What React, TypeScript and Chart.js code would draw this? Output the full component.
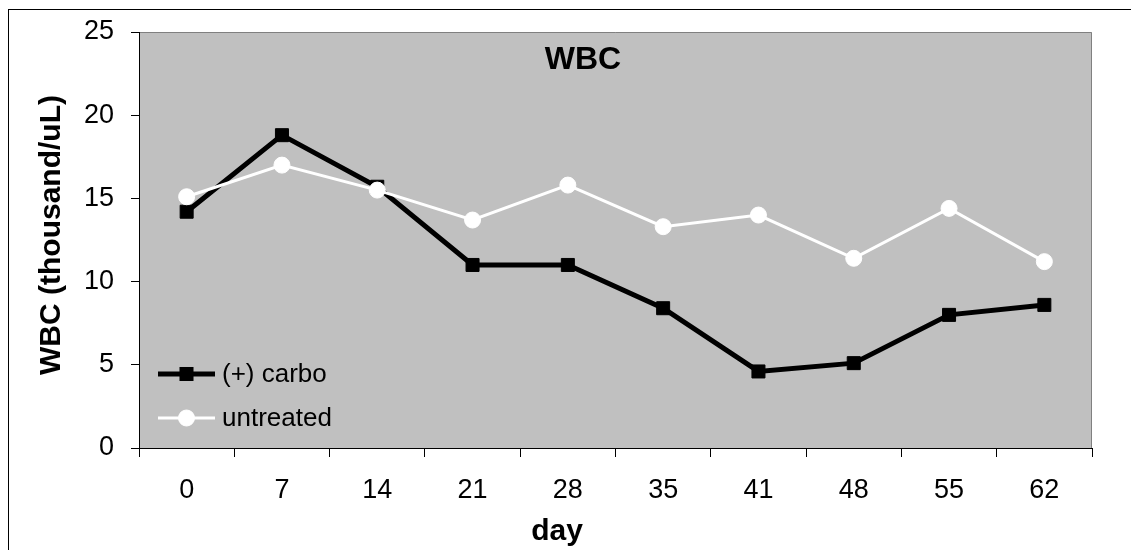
import React, { useEffect, useRef } from "react";
import { Chart, registerables } from "chart.js";

Chart.register(...registerables);

const days: string[] = ["0", "7", "14", "21", "28", "35", "41", "48", "55", "62"];
const carbo: number[] = [14.2, 18.8, 15.7, 11.0, 11.0, 8.4, 4.6, 5.1, 8.0, 8.6];
const untreated: number[] = [15.1, 17.0, 15.5, 13.7, 15.8, 13.3, 14.0, 11.4, 14.4, 11.2];
const seriesNames: string[] = ["(+) carbo", "untreated"];
const chartTitle = "WBC";
const xTitle = "day";
const yTitle = "WBC (thousand/uL)";

const FONT = "'Liberation Sans', Arial, sans-serif";

const decorPlugin = {
  id: "decor",
  beforeDraw(chart: any) {
    const { ctx, chartArea: a } = chart;
    ctx.save();
    ctx.fillStyle = "#c0c0c0";
    ctx.fillRect(a.left, a.top, a.right - a.left, a.bottom - a.top);
    ctx.strokeStyle = "#808080";
    ctx.lineWidth = 1;
    ctx.beginPath();
    ctx.moveTo(a.left, a.top + 0.5);
    ctx.lineTo(a.right - 0.5, a.top + 0.5);
    ctx.lineTo(a.right - 0.5, a.bottom);
    ctx.stroke();
    ctx.restore();
  },
  afterDraw(chart: any) {
    const { ctx, chartArea: a } = chart;
    ctx.save();
    ctx.fillStyle = "#000";
    // main title
    ctx.font = `bold 32px ${FONT}`;
    ctx.textAlign = "center";
    ctx.textBaseline = "alphabetic";
    ctx.fillText(chartTitle, a.left + 444, a.top + 37);
    // x title
    ctx.font = `bold 30px ${FONT}`;
    ctx.fillText(xTitle, a.left + 418, a.bottom + 92);
    // y title
    ctx.save();
    ctx.translate(a.left - 87, (a.top + a.bottom) / 2 - 5);
    ctx.rotate(-Math.PI / 2);
    ctx.textBaseline = "middle";
    ctx.fillText(yTitle, 0, 0);
    ctx.restore();
    // legend
    const rows = [a.bottom - 74, a.bottom - 30];
    [0, 1].forEach((i: number) => {
      const ds = chart.data.datasets[i];
      const y = rows[i];
      const x0 = a.left + 19;
      const x1 = a.left + 76;
      ctx.strokeStyle = ds.borderColor;
      ctx.lineWidth = ds.borderWidth;
      ctx.beginPath();
      ctx.moveTo(x0, y);
      ctx.lineTo(x1, y);
      ctx.stroke();
      ctx.fillStyle = ds.pointBackgroundColor;
      ctx.strokeStyle = ds.pointBorderColor;
      ctx.lineWidth = 1;
      if (ds.pointStyle === "rect") {
        const s = ds.pointRadius * Math.SQRT1_2;
        ctx.fillRect((x0 + x1) / 2 - s, y - s, 2 * s, 2 * s);
        ctx.strokeRect((x0 + x1) / 2 - s, y - s, 2 * s, 2 * s);
      } else {
        ctx.beginPath();
        ctx.arc((x0 + x1) / 2, y, ds.pointRadius, 0, Math.PI * 2);
        ctx.fill();
        ctx.stroke();
      }
      ctx.fillStyle = "#000";
      ctx.font = `26px ${FONT}`;
      ctx.textAlign = "left";
      ctx.textBaseline = "middle";
      ctx.fillText(seriesNames[i], a.left + 83, y + 1);
    });
    ctx.restore();
  },
};

export default function App() {
  const ref = useRef<HTMLCanvasElement>(null);
  useEffect(() => {
    if (!ref.current) return;
    const chart = new Chart(ref.current, {
      type: "line",
      data: {
        labels: days,
        datasets: [
          {
            label: seriesNames[0],
            data: carbo,
            borderColor: "#000",
            backgroundColor: "#000",
            borderWidth: 5,
            pointStyle: "rect",
            pointRadius: 9.2,
            pointBackgroundColor: "#000",
            pointBorderColor: "#000",
            pointBorderWidth: 1,
            tension: 0,
            order: 1,
          },
          {
            label: seriesNames[1],
            data: untreated,
            borderColor: "#fff",
            backgroundColor: "#fff",
            borderWidth: 3,
            pointStyle: "circle",
            pointRadius: 8,
            pointBackgroundColor: "#fff",
            pointBorderColor: "#fff",
            pointBorderWidth: 1,
            tension: 0,
            order: 0,
          },
        ] as any,
      },
      options: {
        animation: false,
        responsive: false,
        maintainAspectRatio: false,
        layout: { padding: { left: 0, top: 22, right: 39, bottom: 0 } },
        plugins: { legend: { display: false }, title: { display: false }, tooltip: { enabled: false } },
        scales: {
          x: {
            type: "category",
            offset: true,
            grid: { offset: true, drawOnChartArea: false, drawTicks: true, tickLength: 9, color: "#000" },
            border: { display: true, color: "#000", width: 1 },
            ticks: { color: "#000", font: { family: FONT, size: 27 }, padding: 17, maxRotation: 0 },
            afterFit: (s: any) => { s.height = 102; s.paddingLeft = 0; s.paddingRight = 0; },
          },
          y: {
            min: 0,
            max: 25,
            ticks: { stepSize: 5, color: "#000", font: { family: FONT, size: 27 }, padding: 17 },
            grid: { drawOnChartArea: false, drawTicks: true, tickLength: 8, color: "#000" },
            border: { display: true, color: "#000", width: 1 },
            afterFit: (s: any) => { s.width = 130; s.paddingTop = 0; s.paddingBottom = 0; },
          },
        },
      },
      plugins: [decorPlugin],
    });
    return () => chart.destroy();
  }, []);
  return (
    <div
      style={{
        position: "fixed",
        left: 8,
        top: 9,
        width: 1123,
        height: 541,
        borderTop: "1px solid #000",
        borderLeft: "1px solid #000",
        boxSizing: "border-box",
        background: "#fff",
      }}
    >
      <canvas ref={ref} width={1122} height={540} style={{ width: 1122, height: 540, display: "block" }} />
    </div>
  );
}
